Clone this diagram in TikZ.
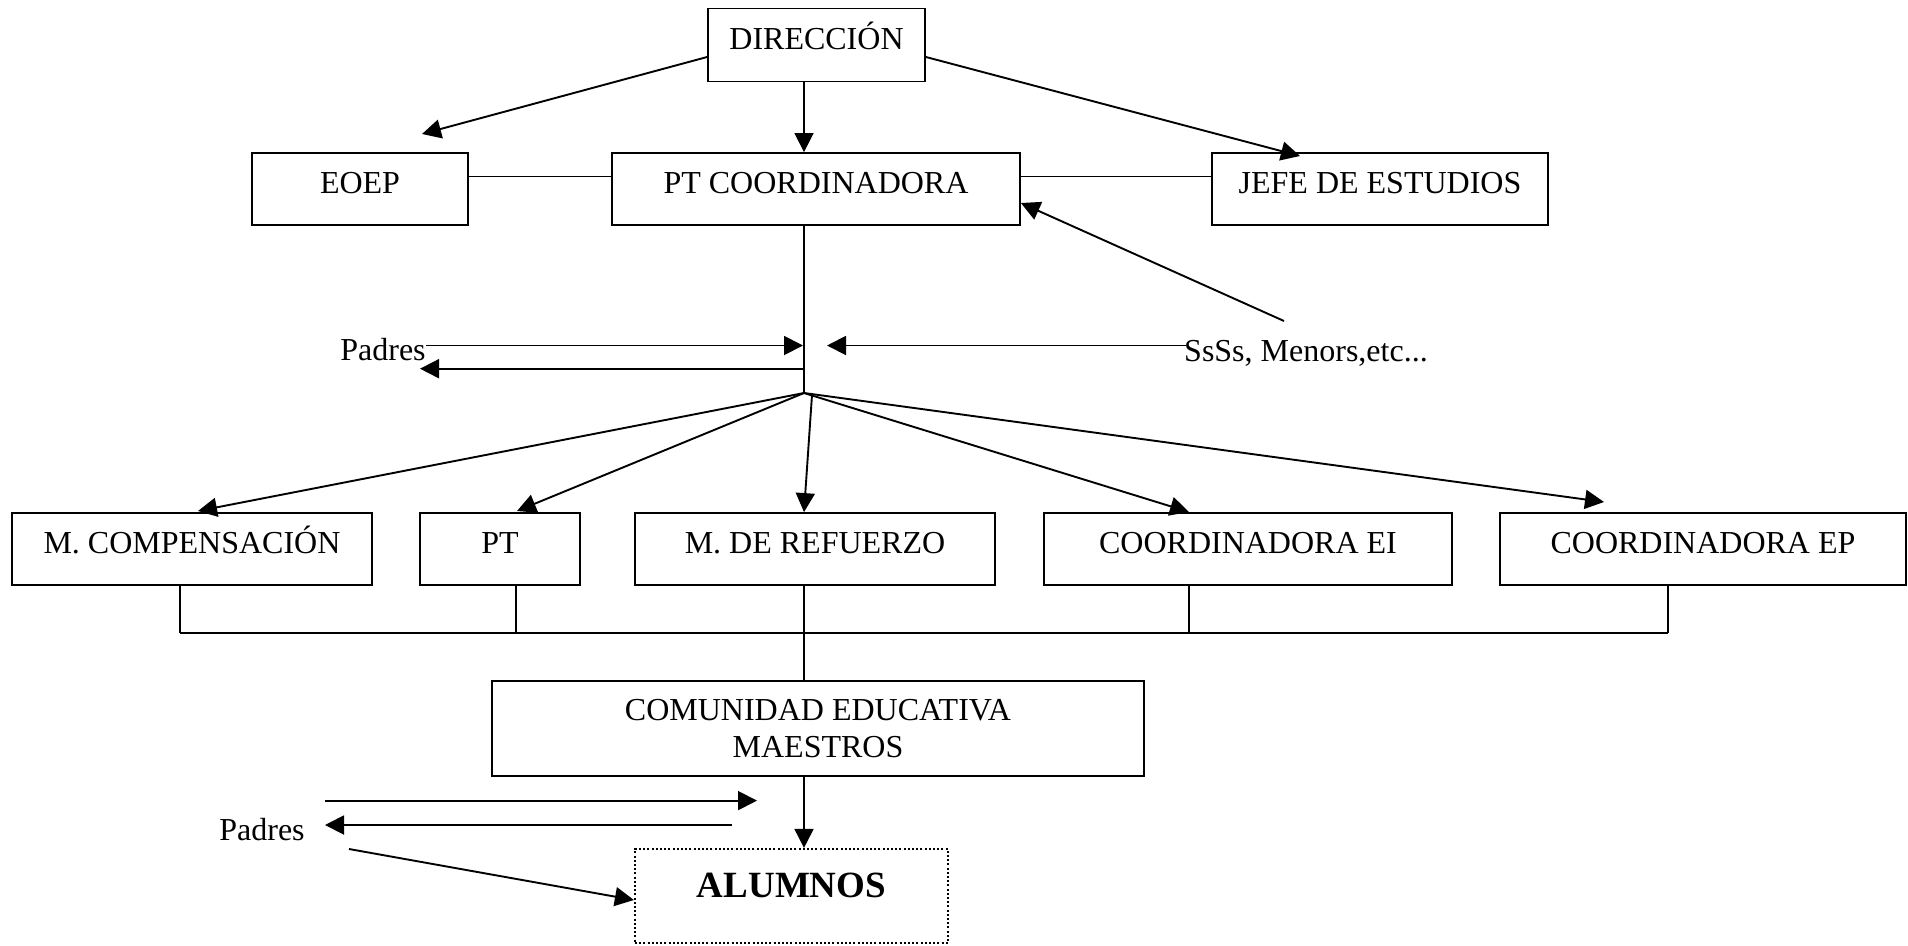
\documentclass[tikz,border=0pt]{standalone}
\usepackage{fontspec}
\setmainfont{Liberation Serif}
\usetikzlibrary{arrows.meta,calc}
\begin{document}
\begin{tikzpicture}[x=1pt,y=-1pt,
  box/.style={draw,line width=1.8pt,inner sep=0pt,font=\fontsize{32}{36.5}\selectfont,text height=21pt,text depth=12pt},
  lbl/.style={inner sep=0pt,font=\fontsize{32}{36.5}\selectfont},
  arr/.style={line width=1.9pt,-{Triangle[length=19pt,width=19pt]}},
  ln/.style={line width=1.9pt},
  thin/.style={line width=1.6pt}]
\useasboundingbox (0,0) rectangle (1908,945);
% boxes
\node[box,minimum width=217pt,minimum height=73pt] (dir) at (816.5,45) {DIRECCIÓN};
\node[box,minimum width=216pt,minimum height=72pt] (eoep) at (360,189) {EOEP};
\node[box,minimum width=408pt,minimum height=72pt] (ptc) at (816,189) {PT COORDINADORA};
\node[box,minimum width=336pt,minimum height=72pt] (jefe) at (1380,189) {JEFE DE ESTUDIOS};
\node[box,minimum width=360pt,minimum height=72pt] (mcomp) at (192,549) {M. COMPENSACIÓN};
\node[box,minimum width=160pt,minimum height=72pt] (pt) at (500,549) {PT};
\node[box,minimum width=360pt,minimum height=72pt] (mref) at (815,549) {M. DE REFUERZO};
\node[box,minimum width=408pt,minimum height=72pt] (cei) at (1248,549) {COORDINADORA EI};
\node[box,minimum width=406pt,minimum height=72pt] (cep) at (1703,549) {COORDINADORA EP};
\node[draw,line width=1.8pt,inner sep=0pt,minimum width=652pt,minimum height=95pt,align=center,font=\fontsize{32}{36.5}\selectfont] (com) at (818,728.5) {COMUNIDAD EDUCATIVA\\MAESTROS};
\node[draw,line width=2.2pt,dash pattern=on 2pt off 2.2pt,inner sep=0pt,minimum width=313pt,minimum height=94pt,font=\fontsize{37}{40}\selectfont\bfseries,text height=24.5pt,text depth=22pt] (alu) at (791.5,896) {ALUMNOS};
% labels
\node[lbl] (padres1) at (383,350) {Padres};
\node[lbl,anchor=west] (ss) at (1184,353) {SsSs, Menors,etc...};
\node[lbl] (padres2) at (262,830) {Padres};
% coordinates
\coordinate (spine) at (804,0);
\coordinate (fan) at (804,393);
\coordinate (eoepin) at (422,134);
\coordinate (jefein) at (1300,156);
\coordinate (hl) at (0,176.5);
% top
\draw[arr] (dir.west |- 0,57) -- (eoepin);
\draw[arr] (dir.east |- 0,57) -- (jefein);
\draw[arr,line width=1.6pt] (dir.south -| spine) -- (ptc.north -| spine);
\draw[ln] (eoep.east |- hl) -- (ptc.west |- hl);
\draw[ln] (ptc.east |- hl) -- (jefe.west |- hl);
\coordinate (ssup) at (1284,321);
\draw[arr] (ssup) -- (ptc.east |- 0,203);
\draw[thin] (ptc.south -| spine) -- (fan);
% Padres / SsSs arrows
\draw[arr] (426,345.5) -- (803,345.5);
\draw[arr] (804,368.7) -- (420,368.7);
\draw[arr] (1186,345.5) -- (827,345.5);
% fan
\draw[arr] (fan) -- (198,511);
\draw[arr] (fan) -- (517,511);
\draw[arr] (812,395) -- (mref.north -| spine);
\draw[arr] (fan) -- (1189,512);
\draw[arr] (fan) -- (1604,502);
% bus
\draw[thin] (mcomp.south -| 180,0) -- (180,633);
\draw[thin] (pt.south -| 516,0) -- (516,633);
\draw[thin] (cei.south -| 1189,0) -- (1189,633);
\draw[thin] (cep.south -| 1668,0) -- (1668,633);
\draw[ln] (180,633) -- (1668,633);
\draw[thin] (mref.south -| spine) -- (com.north -| spine);
\draw[arr] (com.south -| spine) -- (alu.north -| spine);
% bottom Padres
\draw[arr] (325,800.6) -- (757,800.6);
\draw[arr] (732,825) -- (325,825);
\draw[arr] (349,849) -- (alu.west |- 0,900);
\end{tikzpicture}
\end{document}
